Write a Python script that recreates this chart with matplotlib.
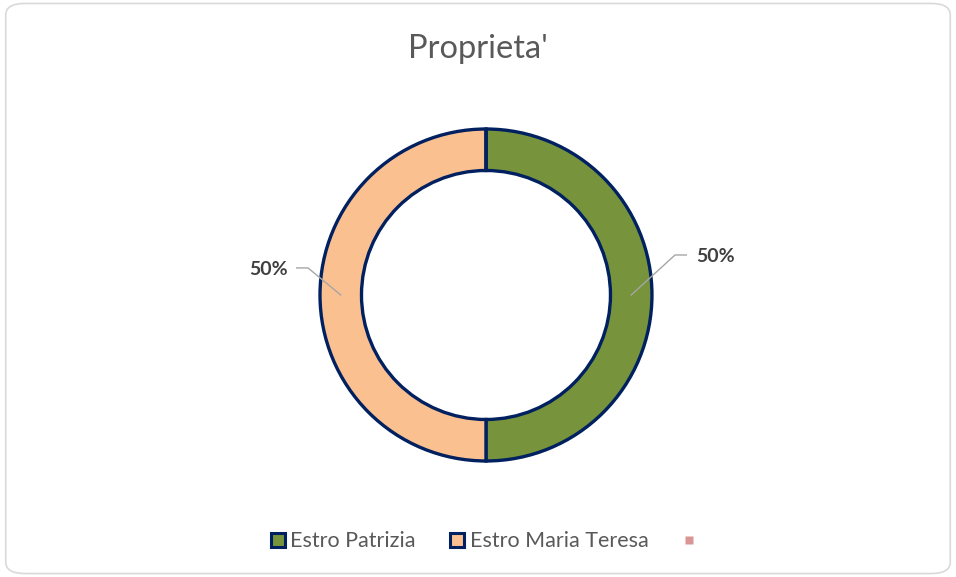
import numpy as np
import matplotlib.pyplot as plt
from matplotlib.lines import Line2D
from matplotlib.patches import FancyBboxPatch

labels = ["Estro Patrizia", "Estro Maria Teresa", ""]
values = [50, 50, 0]
colors = ["#77933C", "#FAC090", "#D99694"]
title = "Proprieta'"

plt.rcParams['font.family'] = ['Lato', 'DejaVu Sans']

fig = plt.figure(figsize=(9.56, 5.77), dpi=100)
fig.patch.set_facecolor('white')

# rounded chart border
border = FancyBboxPatch((0.006, 0.006), 0.988, 0.988,
                        boxstyle="round,pad=0,rounding_size=0.02",
                        transform=fig.transFigure, facecolor='none',
                        edgecolor='#D9D9D9', linewidth=1.2, zorder=-1)
fig.patches.append(border)

ax = fig.add_axes([0.300, 0.1435, 0.4167, 0.6905])
wedges, _ = ax.pie(values, colors=colors, startangle=90, counterclock=False,
                   radius=1.0,
                   wedgeprops=dict(width=0.25, edgecolor='#002060', linewidth=2.4))
ax.set_xlim(-1.2, 1.2)
ax.set_ylim(-1.2, 1.2)
ax.set_aspect('equal')
ax.axis('off')

total = sum(values)
for w, v in zip(wedges, values):
    if v == 0:
        continue
    ang = np.deg2rad((w.theta1 + w.theta2) / 2)
    x0, y0 = 0.875 * np.cos(ang), 0.875 * np.sin(ang)
    side = 1 if np.cos(ang) >= 0 else -1
    if side > 0:
        ex, ey = 1.139, 0.241
        tx, ty = 1.265, 0.229
    else:
        ex, ey = -1.072, 0.163
        tx, ty = -1.193, 0.151
    ax.plot([x0, ex, ex + side * 0.068], [y0, ey, ey], color='#A6A6A6',
            lw=1.0, clip_on=False)
    ax.text(tx, ty, f"{v / total:.0%}", ha='left' if side > 0 else 'right',
            va='center', fontsize=14, fontweight='bold', color='#404040',
            clip_on=False)

fig.text(0.5, 0.915, title, ha='center', va='center', fontsize=23.5,
         color='#595959')

handles = []
for c, v in zip(colors, values):
    if v > 0:
        handles.append(Line2D([], [], ls='none', marker='s', markersize=9.5,
                              markerfacecolor=c, markeredgecolor='#002060',
                              markeredgewidth=2.2))
    else:
        handles.append(Line2D([], [], ls='none', marker='s', markersize=6,
                              markerfacecolor=c, markeredgecolor='none'))
fig.legend(handles, labels, loc='center', bbox_to_anchor=(0.508, 0.062),
           ncol=3, frameon=False, fontsize=15.5, handlelength=0.8,
           handletextpad=0.2, columnspacing=1.5,
           labelcolor='#595959')

fig.savefig('out.png', dpi=100)
